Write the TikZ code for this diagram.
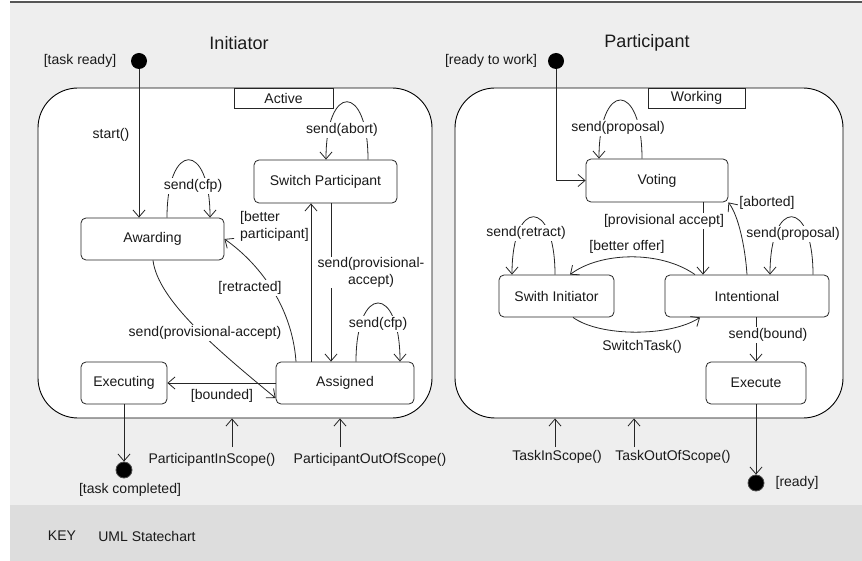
\documentclass[tikz,border=0pt]{standalone}
\usepackage{fontspec}
\setmainfont{Liberation Sans}
\usetikzlibrary{arrows.meta}
\definecolor{panelgray}{HTML}{EEEEEE}
\definecolor{keygray}{HTML}{DDDDDD}
\definecolor{topline}{HTML}{555555}
\definecolor{ink}{HTML}{1A1A1A}
\begin{document}
\begin{tikzpicture}[x=1pt,y=-1pt,
  every node/.style={font=\fontsize{14}{16.5}\selectfont, text=ink},
  titlefont/.style={font=\fontsize{18}{20}\selectfont},
  composite/.style={draw=black, line width=0.9pt, fill=white, rounded corners=40pt, inner sep=0pt},
  tab/.style={draw=black!85, line width=0.8pt, fill=white, inner sep=0pt, minimum height=20pt},
  statebox/.style={draw=black!85, line width=0.8pt, fill=white, rounded corners=5pt, inner sep=0pt, minimum height=42pt},
  initdot/.style={circle, fill=black, inner sep=0pt, minimum size=16pt},
  finaldot/.style={circle, fill=black, draw=black!70, line width=0.8pt, inner sep=0pt, minimum size=16pt},
  lbl/.style={fill=white, inner sep=1pt},
  plain/.style={inner sep=1pt},
  tr/.style={draw=black!85, line width=0.8pt, -{Straight Barb[length=7pt,width=12pt]}},
]
\useasboundingbox (0,0) rectangle (862,561);
% background
\fill[white] (0,0) rectangle (862,561);
\fill[panelgray] (10,3) rectangle (862,505);
\fill[keygray] (10,505) rectangle (862,561);
\draw[topline, line width=2pt] (10,2) -- (862,2);

% titles
\node[titlefont] (ttlA) at (239,43) {Initiator};
\node[titlefont] (ttlB) at (647,43) {Participant};

% composites
\node[composite, minimum width=394pt, minimum height=330pt] (active) at (235,253) {};
\node[composite, minimum width=388pt, minimum height=330pt] (working) at (649,253) {};
\node[tab, minimum width=99pt] (activetab) at (283.5,98) {Active};
\node[tab, minimum width=97pt] (workingtab) at (696.5,98) {Working};

% initial and final states
\node[initdot] (init1) at (139,61) {};
\node[initdot] (init2) at (556,61) {};
\node[plain] (lready) at (80,61) {[task ready]};
\node[plain] (lwork) at (491,61) {[ready to work]};

% left states
\node[statebox, minimum width=143pt] (award) at (152.5,239) {Awarding};
\node[statebox, minimum width=143pt, minimum height=43pt] (sp) at (325.5,181.5) {Switch Participant};
\node[statebox, minimum width=138pt] (assigned) at (345,383) {Assigned};
\node[statebox, minimum width=86pt] (exec) at (124,383) {Executing};
\node[finaldot] (fin1) at (124,470) {};

% right states
\node[statebox, minimum width=142pt, minimum height=43pt] (voting) at (657,180.5) {Voting};
\node[statebox, minimum width=115pt] (swi) at (556.5,296) {Swith Initiator};
\node[statebox, minimum width=164pt] (intent) at (747,296) {Intentional};
\node[statebox, minimum width=100pt] (execute) at (756,383) {Execute};
\node[finaldot] (fin2) at (756,483) {};

% ---------- left transitions
\draw[tr] (init1.south) -- (init1.south |- award.north);
\draw[tr] ([xshift=14.5pt]award.north) .. controls +(0,-77) and +(0,-77) .. ([xshift=57.5pt]award.north);
\draw[tr] ([xshift=42.5pt]sp.north) .. controls +(0,-77) and +(0,-77) .. ([xshift=0.5pt]sp.north);
\draw[tr] ([xshift=11pt]assigned.north) .. controls +(0,-78) and +(0,-78) .. ([xshift=55pt]assigned.north);
\draw[tr] ([xshift=5.5pt]sp.south) -- ([xshift=5.5pt]sp.south |- assigned.north);
\draw[tr] ([xshift=-34pt]assigned.north) -- ([xshift=-34pt]assigned.north |- sp.south);
\draw[tr] ([xshift=-49pt]assigned.north) .. controls +(-4,-57) and +(33,23) .. (award.east);
\draw[tr] ([xshift=0.5pt]award.south) .. controls (158,300) and (215,348) .. ([yshift=-15pt]assigned.west);
\draw[tr] (assigned.west) -- (exec.east);
\draw[tr] (exec.south) -- (fin1);

% scope arrows (left)
\coordinate (pin) at (232,447);
\coordinate (pout) at (340,447);
\draw[tr] (pin) -- (pin |- active.south);
\draw[tr] (pout) -- (pout |- active.south);

% ---------- right transitions
\draw[tr] (init2.south) |- (voting.west);
\draw[tr] ([xshift=-15pt]voting.north) .. controls +(0,-78) and +(0,-78) .. ([xshift=-58pt]voting.north);
\draw[tr] ([xshift=46pt]voting.south) -- ([xshift=46pt]voting.south |- intent.north);
\draw[tr] (intent.north) .. controls (745,245) and (738,215) .. (voting.south east);
\draw[tr] ([xshift=-1.5pt]swi.north) .. controls +(0,-77) and +(0,-77) .. ([xshift=-44.5pt]swi.north);
\draw[tr] ([xshift=66pt]intent.north) .. controls +(0,-77) and +(0,-77) .. ([xshift=23pt]intent.north);
\draw[tr] ([xshift=-52pt]intent.north) .. controls (660,250) and (600,252) .. ([xshift=13.5pt]swi.north);
\draw[tr] ([xshift=16.5pt]swi.south) .. controls (600,337) and (670,337) .. ([xshift=-47pt]intent.south);
\draw[tr] (execute.north |- intent.south) -- (execute.north);
\draw[tr] (execute.south) -- (fin2);

% scope arrows (right)
\coordinate (tin) at (555,447);
\coordinate (tout) at (634,447);
\draw[tr] (tin) -- (tin |- working.south);
\draw[tr] (tout) -- (tout |- working.south);

% ---------- labels (left)
\node[plain] (lstart) at (111,135) {start()};
\node[lbl] (lcfp1) at (193,186) {send(cfp)};
\node[lbl] (labort) at (342,130) {send(abort)};
\node[plain, align=left, anchor=west] (lbetter) at (239,226.5) {[better\\participant]};
\node[lbl] (lretr) at (250,288) {[retracted]};
\node[lbl, align=center] (lprov) at (371,272.5) {send(provisional-\\accept)};
\node[lbl] (lcfp2) at (378,324) {send(cfp)};
\node[lbl] (lprov2) at (205,333) {send(provisional-accept)};
\node[plain] (lbound) at (222,396) {[bounded]};
\node[plain] (lpin) at (212,460) {ParticipantInScope()};
\node[plain] (lpout) at (370,460) {ParticipantOutOfScope()};
\node[plain] (ldone) at (130,490) {[task completed]};

% ---------- labels (right)
\node[lbl] (lprop1) at (618,128) {send(proposal)};
\node[lbl] (lpa) at (664,221) {[provisional accept]};
\node[plain] (labrt) at (767,203) {[aborted]};
\node[lbl] (lretract) at (526,233) {send(retract)};
\node[lbl] (lprop2) at (793,234) {send(proposal)};
\node[plain] (loffer) at (627,247) {[better offer]};
\node[plain] (lswitch) at (642,347) {SwitchTask()};
\node[lbl] (lbnd) at (768,335) {send(bound)};
\node[plain] (ltin) at (557,457) {TaskInScope()};
\node[plain] (ltout) at (673,457) {TaskOutOfScope()};
\node[plain] (lrdy) at (797,483) {[ready]};

% key
\node[plain] (key) at (62,536) {KEY};
\node[plain] (keytext) at (147,536) {UML Statechart};
\end{tikzpicture}
\end{document}
